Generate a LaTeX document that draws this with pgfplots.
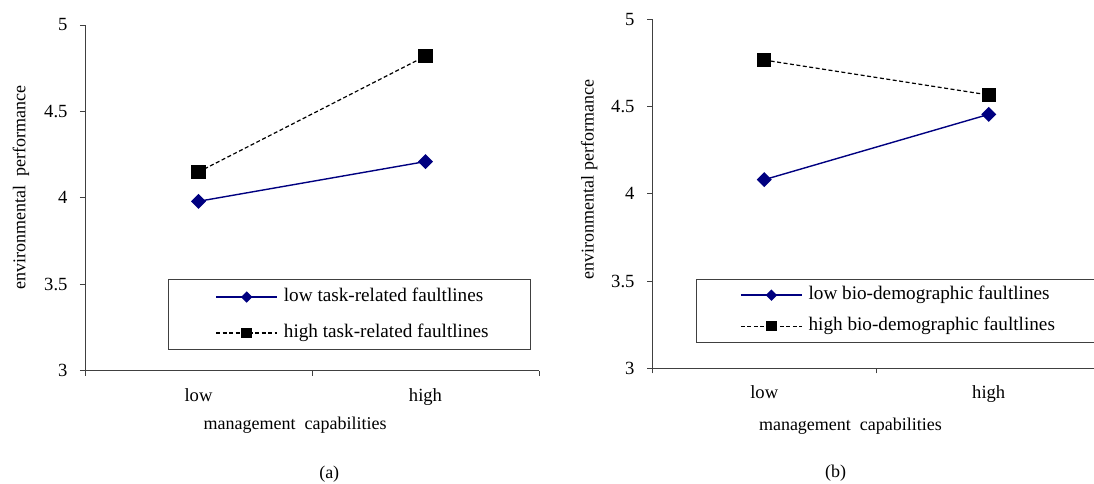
\documentclass[border=0pt]{standalone}
\usepackage{fontspec}
\setmainfont{Liberation Serif}
\usepackage{pgfplots}
\pgfplotsset{compat=1.18}
\definecolor{navyc}{RGB}{0,0,128}
\newcommand\fs{\fontsize{18}{21}\selectfont}
\newcommand\ft{\fontsize{18.6}{21}\selectfont}
\newcommand\fl{\fontsize{19.2}{22}\selectfont}

\pgfplotsset{
  panel/.style={
    scale only axis,
    axis lines*=left,
    xmin=0, xmax=2, ymin=3, ymax=5,
    ytick={3,3.5,4,4.5,5},
    yticklabels={3,3.5,4,4.5,5},
    xtick={0,1,2}, xticklabels={},
    extra x ticks={0.5,1.5},
    extra x tick labels={low,high},
    extra x tick style={major tick length=0pt},
    tick align=outside,
    major tick length=5pt,
    axis line style={line width=0.9pt, black!75},
    tick style={line width=0.9pt, black!75},
    tick label style={font=\ft},
    xticklabel style={yshift=-14pt},
    yticklabel style={xshift=-9pt},
    label style={font=\fs},
    clip=false,
    legend cell align=left,
    legend image code/.code={
      \draw[mark repeat=2, mark phase=2, #1, every mark/.append style={scale=0.72}]
        plot coordinates {(0pt,0pt) (30.5pt,0pt) (61pt,0pt)};},
  },
  lowser/.style={navyc, line width=1.4pt, mark=square*, mark size=4.6pt,
    mark options={rotate=45, solid, fill=navyc}},
  highser/.style={black, line width=1.2pt, dash pattern=on 4pt off 2.5pt,
    mark=square*, mark size=6.5pt, mark options={solid, fill=black}},
}

\begin{document}
\begin{tikzpicture}[x=1pt,y=1pt]
\useasboundingbox (0,0) rectangle (1094,483);

% panel (a)
\begin{axis}[panel,
  at={(85pt,112.3pt)}, anchor=south west,
  width=454pt, height=345.7pt,
  ylabel={environmental\ \ performance},
  xlabel={management\ \ capabilities},
  ylabel style={at={(axis description cs:-0.141,0.53)}, anchor=center},
  xlabel style={at={(axis description cs:0.463,-0.157)}, anchor=center},
  legend style={draw=none, fill=none, font=\fl,
    at={(axis description cs:0.287,0.161)}, anchor=west,
    inner sep=0pt, row sep=20pt, column sep=6pt,
    nodes={inner sep=0pt, text height=12pt, text depth=4pt, anchor=west}},
]
\draw[line width=0.9pt, black!75] (axis description cs:0.183,0.061) rectangle (axis description cs:0.982,0.264);
\addplot[lowser] coordinates {(0.5,3.98) (1.5,4.21)};
\addlegendentry{low task-related faultlines}
\addplot[highser] coordinates {(0.5,4.15) (1.5,4.82)};
\addlegendentry{high task-related faultlines}
\node[font=\fs] at (axis description cs:0.538,-0.299) {(a)};
\end{axis}

% panel (b)
\begin{axis}[panel,
  at={(652pt,114.7pt)}, anchor=south west,
  width=449pt, height=349.3pt,
  ylabel={environmental performance},
  xlabel={management\ \ capabilities},
  ylabel style={at={(axis description cs:-0.14,0.54)}, anchor=center},
  xlabel style={at={(axis description cs:0.442,-0.166)}, anchor=center},
  legend style={draw=none, fill=none, font=\fl,
    at={(axis description cs:0.196,0.165)}, anchor=west,
    inner sep=0pt, row sep=15pt, column sep=6pt,
    nodes={inner sep=0pt, text height=12pt, text depth=4pt, anchor=west}},
]
\draw[line width=0.9pt, black!75] (axis description cs:0.0996,0.0745) rectangle (axis description cs:1.1,0.255);
\addplot[lowser] coordinates {(0.5,4.08) (1.5,4.454)};
\addlegendentry{low bio-demographic faultlines}
\addplot[highser] coordinates {(0.5,4.765) (1.5,4.565)};
\addlegendentry{high bio-demographic faultlines}
\node[font=\fs] at (axis description cs:0.409,-0.301) {(b)};
\end{axis}
\end{tikzpicture}
\end{document}
